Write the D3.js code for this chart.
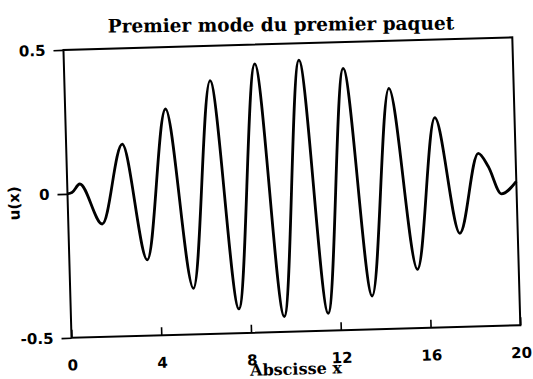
<!DOCTYPE html>
<html>
<head>
<meta charset="utf-8">
<script src="https://cdn.jsdelivr.net/npm/d3@7"></script>
<style>
  html, body { margin: 0; padding: 0; background: #fff; }
  svg { display: block; }
</style>
</head>
<body>
<svg id="chart" width="533" height="379"></svg>
<script>
// First mode of the first packet: u(x) sampled at its turning points
const abscissa = [0, 0.2, 0.56, 1.51, 2.50, 3.47, 4.47, 5.49, 6.49, 7.49, 8.50, 9.50,
                  10.47, 11.46, 12.43, 13.44, 14.44, 15.49, 16.45, 17.42, 18.34, 18.77, 19.32, 20];
const amplitude = [0, 0.004, 0.033, -0.108, 0.167, -0.237, 0.285, -0.340, 0.379, -0.416, 0.433, -0.447,
                   0.442, -0.440, 0.409, -0.384, 0.335, -0.296, 0.229, -0.175, 0.101, 0.054, -0.042, 0.0];

const xTickValues = [0, 4, 8, 12, 16, 20];
const yTickValues = [-0.5, 0, 0.5];
const yTickLabels = ["-0.5", "0", "0.5"];

const titleText = "Premier mode du premier paquet";
const xLabelText = "Abscisse x";
const yLabelText = "u(x)";

const frame = { left: 67.4, top: 43.6, width: 449, height: 288 };
const cx = frame.left + frame.width / 2;
const cy = frame.top + frame.height / 2;
const tilt = -1.6;

const svg = d3.select("#chart");

const x = d3.scaleLinear().domain([0, 20]).range([frame.left, frame.left + frame.width]);
const y = d3.scaleLinear().domain([-0.5, 0.5]).range([frame.top + frame.height, frame.top]);

// Everything but the title sits on a slightly tilted sheet
const g = svg.append("g").attr("transform", `rotate(${tilt},${cx},${cy})`);

// Curve
const points = abscissa.map((d, i) => [d, amplitude[i]]);
const line = d3.line()
  .x(d => x(d[0]))
  .y(d => y(d[1]))
  .curve(d3.curveMonotoneX);

g.append("path")
  .datum(points)
  .attr("d", line)
  .attr("fill", "none")
  .attr("stroke", "#000")
  .attr("stroke-width", 2.8)
  .attr("stroke-linejoin", "round");

// Box
g.append("rect")
  .attr("x", frame.left)
  .attr("y", frame.top)
  .attr("width", frame.width)
  .attr("height", frame.height)
  .attr("fill", "none")
  .attr("stroke", "#000")
  .attr("stroke-width", 2);

// x axis: ticks pointing inward
const xAxis = d3.axisBottom(x)
  .tickValues(xTickValues)
  .tickFormat(d3.format("d"))
  .tickSizeInner(-8)
  .tickSizeOuter(0)
  .tickPadding(22);

const gx = g.append("g")
  .attr("transform", `translate(0,${frame.top + frame.height})`)
  .call(xAxis);
gx.select(".domain").remove();
gx.selectAll(".tick line").attr("stroke", "#000").attr("stroke-width", 1.6);
gx.selectAll(".tick text")
  .attr("fill", "#000")
  .style("font-family", "'DejaVu Sans', sans-serif")
  .style("font-weight", "bold")
  .style("font-size", "15px");

// y axis: ticks pointing outward
const yAxis = d3.axisLeft(y)
  .tickValues(yTickValues)
  .tickFormat(d => yTickLabels[yTickValues.indexOf(d)])
  .tickSizeInner(10)
  .tickSizeOuter(0)
  .tickPadding(8);

const gy = g.append("g")
  .attr("transform", `translate(${frame.left},0)`)
  .call(yAxis);
gy.select(".domain").remove();
gy.selectAll(".tick line").attr("stroke", "#000").attr("stroke-width", 1.6);
gy.selectAll(".tick text")
  .attr("fill", "#000")
  .style("font-family", "'DejaVu Sans', sans-serif")
  .style("font-weight", "bold")
  .style("font-size", "15px");

// Axis titles
g.append("text")
  .attr("x", cx - 1)
  .attr("y", frame.top + frame.height + 43)
  .attr("text-anchor", "middle")
  .style("font-family", "'DejaVu Serif', serif")
  .style("font-weight", "bold")
  .style("font-size", "16px")
  .text(xLabelText);

g.append("text")
  .attr("transform", `translate(19,${cy + 8}) rotate(-90)`)
  .attr("text-anchor", "middle")
  .style("font-family", "'DejaVu Sans', sans-serif")
  .style("font-weight", "bold")
  .style("font-size", "15px")
  .text(yLabelText);

// Title
svg.append("text")
  .attr("x", 281)
  .attr("y", 31)
  .attr("text-anchor", "middle")
  .attr("transform", "rotate(-0.5,281,26)")
  .style("font-family", "'DejaVu Serif', serif")
  .style("font-weight", "bold")
  .style("font-size", "18.5px")
  .text(titleText);
</script>
</body>
</html>
